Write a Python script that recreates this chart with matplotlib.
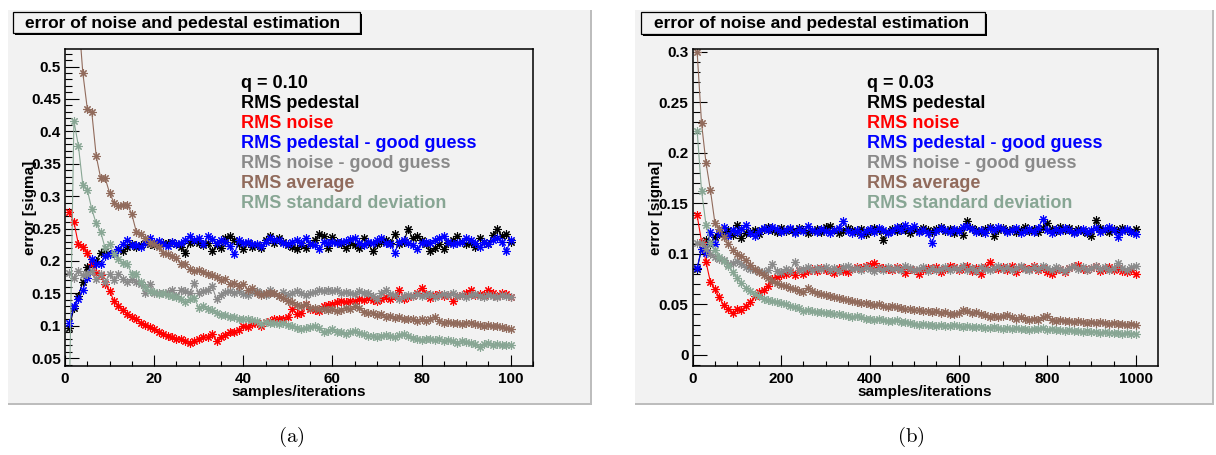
import matplotlib
matplotlib.use("Agg")
import matplotlib.pyplot as plt
from matplotlib.patches import Rectangle
from matplotlib.ticker import MultipleLocator, FuncFormatter

# ---------------- data ----------------
samples_a = list(range(1, 101))
samples_b = list(range(10, 1001, 10))

ped_a = [0.097, 0.128, 0.146, 0.168, 0.190, 0.195, 0.200, 0.213, 0.216, 0.210,
         0.213, 0.218, 0.215, 0.222, 0.226, 0.222, 0.225, 0.228, 0.226, 0.224,
         0.226, 0.228, 0.227, 0.230, 0.226, 0.222, 0.213, 0.228, 0.231, 0.228,
         0.224, 0.228, 0.215, 0.224, 0.220, 0.235, 0.238, 0.232, 0.226, 0.219,
         0.228, 0.222, 0.225, 0.220, 0.232, 0.238, 0.228, 0.235, 0.230, 0.225,
         0.222, 0.218, 0.224, 0.220, 0.226, 0.232, 0.241, 0.238, 0.220, 0.237,
         0.230, 0.226, 0.220, 0.228, 0.224, 0.220, 0.236, 0.228, 0.215, 0.226,
         0.230, 0.232, 0.228, 0.241, 0.226, 0.230, 0.249, 0.235, 0.238, 0.232,
         0.226, 0.215, 0.220, 0.226, 0.218, 0.228, 0.232, 0.238, 0.230, 0.226,
         0.228, 0.222, 0.236, 0.230, 0.226, 0.240, 0.250, 0.238, 0.242, 0.230]
noise_a = [0.275, 0.260, 0.226, 0.222, 0.213, 0.195, 0.182, 0.178, 0.164, 0.154,
           0.138, 0.131, 0.125, 0.118, 0.113, 0.110, 0.105, 0.101, 0.098, 0.095,
           0.090, 0.087, 0.085, 0.082, 0.080, 0.080, 0.076, 0.074, 0.077, 0.080,
           0.082, 0.082, 0.087, 0.077, 0.083, 0.086, 0.090, 0.091, 0.093, 0.100,
           0.098, 0.103, 0.105, 0.100, 0.106, 0.108, 0.110, 0.110, 0.111, 0.113,
           0.126, 0.118, 0.120, 0.133, 0.126, 0.125, 0.123, 0.131, 0.132, 0.133,
           0.136, 0.138, 0.137, 0.138, 0.138, 0.141, 0.140, 0.143, 0.140, 0.138,
           0.142, 0.144, 0.141, 0.146, 0.156, 0.141, 0.145, 0.146, 0.150, 0.159,
           0.149, 0.143, 0.147, 0.149, 0.146, 0.147, 0.138, 0.146, 0.148, 0.151,
           0.155, 0.148, 0.149, 0.147, 0.156, 0.150, 0.146, 0.150, 0.149, 0.145]
ped_good_a = [0.105, 0.130, 0.141, 0.155, 0.174, 0.203, 0.195, 0.195, 0.208, 0.210,
              0.212, 0.218, 0.226, 0.233, 0.224, 0.225, 0.222, 0.228, 0.236, 0.230,
              0.231, 0.226, 0.223, 0.230, 0.226, 0.228, 0.232, 0.238, 0.232, 0.235,
              0.226, 0.238, 0.234, 0.228, 0.232, 0.230, 0.223, 0.210, 0.232, 0.228,
              0.230, 0.226, 0.226, 0.223, 0.230, 0.236, 0.232, 0.233, 0.228, 0.226,
              0.230, 0.232, 0.228, 0.236, 0.226, 0.224, 0.218, 0.230, 0.228, 0.230,
              0.227, 0.229, 0.231, 0.234, 0.236, 0.228, 0.225, 0.230, 0.228, 0.232,
              0.236, 0.228, 0.226, 0.213, 0.230, 0.232, 0.228, 0.225, 0.218, 0.228,
              0.230, 0.228, 0.232, 0.235, 0.238, 0.230, 0.226, 0.228, 0.230, 0.236,
              0.232, 0.228, 0.222, 0.230, 0.226, 0.232, 0.236, 0.230, 0.215, 0.232]
noise_good_a = [0.182, 0.173, 0.185, 0.178, 0.180, 0.185, 0.172, 0.180, 0.167, 0.180,
                0.170, 0.180, 0.172, 0.167, 0.172, 0.168, 0.164, 0.151, 0.164, 0.151,
                0.150, 0.151, 0.152, 0.156, 0.146, 0.155, 0.153, 0.150, 0.166, 0.151,
                0.154, 0.156, 0.161, 0.141, 0.148, 0.152, 0.154, 0.150, 0.153, 0.149,
                0.147, 0.152, 0.154, 0.151, 0.148, 0.156, 0.150, 0.146, 0.152, 0.147,
                0.150, 0.154, 0.151, 0.148, 0.150, 0.152, 0.156, 0.154, 0.156, 0.153,
                0.155, 0.150, 0.152, 0.151, 0.149, 0.153, 0.151, 0.150, 0.146, 0.141,
                0.150, 0.156, 0.149, 0.147, 0.141, 0.146, 0.148, 0.146, 0.149, 0.146,
                0.147, 0.149, 0.145, 0.148, 0.149, 0.147, 0.150, 0.146, 0.148, 0.145,
                0.147, 0.149, 0.146, 0.145, 0.148, 0.146, 0.144, 0.147, 0.146, 0.145]
avg_a = [0.950, 0.720, 0.580, 0.490, 0.435, 0.430, 0.362, 0.328, 0.328, 0.305,
         0.290, 0.285, 0.287, 0.287, 0.272, 0.245, 0.242, 0.236, 0.228, 0.226,
         0.222, 0.213, 0.210, 0.207, 0.205, 0.196, 0.195, 0.188, 0.185, 0.186,
         0.183, 0.180, 0.178, 0.176, 0.170, 0.172, 0.164, 0.166, 0.162, 0.165,
         0.156, 0.158, 0.150, 0.147, 0.150, 0.151, 0.150, 0.146, 0.143, 0.138,
         0.136, 0.132, 0.130, 0.133, 0.128, 0.128, 0.126, 0.126, 0.124, 0.126,
         0.123, 0.124, 0.128, 0.126, 0.130, 0.128, 0.122, 0.120, 0.120, 0.116,
         0.118, 0.114, 0.115, 0.112, 0.114, 0.110, 0.111, 0.110, 0.108, 0.110,
         0.108, 0.111, 0.113, 0.108, 0.105, 0.106, 0.104, 0.105, 0.103, 0.105,
         0.104, 0.103, 0.102, 0.100, 0.101, 0.099, 0.100, 0.098, 0.096, 0.095]
std_a = [0.000, 0.416, 0.378, 0.317, 0.310, 0.280, 0.258, 0.245, 0.220, 0.226,
         0.210, 0.203, 0.197, 0.195, 0.180, 0.180, 0.167, 0.160, 0.154, 0.152,
         0.149, 0.150, 0.148, 0.146, 0.145, 0.141, 0.136, 0.141, 0.143, 0.128,
         0.130, 0.126, 0.124, 0.120, 0.117, 0.116, 0.113, 0.114, 0.111, 0.110,
         0.110, 0.109, 0.108, 0.103, 0.106, 0.105, 0.104, 0.103, 0.104, 0.102,
         0.100, 0.097, 0.095, 0.096, 0.098, 0.100, 0.096, 0.090, 0.092, 0.095,
         0.091, 0.090, 0.087, 0.090, 0.092, 0.089, 0.087, 0.085, 0.084, 0.083,
         0.085, 0.086, 0.084, 0.083, 0.086, 0.087, 0.084, 0.081, 0.080, 0.078,
         0.080, 0.079, 0.078, 0.080, 0.077, 0.078, 0.076, 0.074, 0.076, 0.075,
         0.074, 0.072, 0.068, 0.072, 0.073, 0.071, 0.072, 0.070, 0.071, 0.070]

ped_b = [0.085, 0.105, 0.114, 0.110, 0.117, 0.120, 0.121, 0.124, 0.119, 0.129,
         0.116, 0.121, 0.122, 0.124, 0.120, 0.125, 0.127, 0.124, 0.122, 0.126,
         0.123, 0.125, 0.122, 0.126, 0.124, 0.121, 0.123, 0.125, 0.122, 0.127,
         0.128, 0.124, 0.121, 0.123, 0.126, 0.124, 0.122, 0.125, 0.120, 0.123,
         0.126, 0.124, 0.114, 0.122, 0.125, 0.123, 0.127, 0.124, 0.121, 0.125,
         0.123, 0.126, 0.124, 0.122, 0.125, 0.127, 0.123, 0.125, 0.121, 0.124,
         0.119, 0.132, 0.126, 0.124, 0.122, 0.125, 0.127, 0.118, 0.124, 0.126,
         0.123, 0.125, 0.122, 0.124, 0.127, 0.123, 0.125, 0.122, 0.126, 0.131,
         0.125, 0.123, 0.127, 0.124, 0.126, 0.122, 0.125, 0.123, 0.121, 0.118,
         0.133, 0.126, 0.124, 0.122, 0.125, 0.123, 0.126, 0.124, 0.122, 0.125]
noise_b = [0.138, 0.112, 0.092, 0.072, 0.065, 0.057, 0.049, 0.045, 0.041, 0.045,
           0.044, 0.048, 0.052, 0.058, 0.062, 0.064, 0.068, 0.075, 0.077, 0.079,
           0.080, 0.082, 0.079, 0.084, 0.080, 0.083, 0.085, 0.083, 0.086, 0.084,
           0.083, 0.081, 0.086, 0.083, 0.082, 0.085, 0.087, 0.086, 0.088, 0.089,
           0.091, 0.087, 0.086, 0.085, 0.084, 0.087, 0.085, 0.081, 0.085, 0.084,
           0.080, 0.084, 0.086, 0.085, 0.087, 0.082, 0.085, 0.088, 0.087, 0.084,
           0.086, 0.088, 0.083, 0.086, 0.080, 0.087, 0.092, 0.086, 0.085, 0.087,
           0.084, 0.088, 0.082, 0.087, 0.086, 0.085, 0.088, 0.084, 0.086, 0.082,
           0.080, 0.084, 0.085, 0.082, 0.086, 0.088, 0.089, 0.085, 0.084, 0.086,
           0.088, 0.083, 0.085, 0.087, 0.084, 0.086, 0.083, 0.082, 0.084, 0.080]
ped_good_b = [0.086, 0.105, 0.101, 0.122, 0.110, 0.121, 0.127, 0.118, 0.124, 0.122,
              0.125, 0.129, 0.121, 0.118, 0.123, 0.126, 0.124, 0.127, 0.125, 0.122,
              0.124, 0.126, 0.121, 0.125, 0.123, 0.128, 0.124, 0.122, 0.125, 0.123,
              0.121, 0.124, 0.126, 0.132, 0.123, 0.121, 0.124, 0.119, 0.123, 0.125,
              0.122, 0.126, 0.124, 0.121, 0.123, 0.127, 0.124, 0.129, 0.125, 0.128,
              0.122, 0.124, 0.121, 0.111, 0.123, 0.126, 0.124, 0.122, 0.125, 0.123,
              0.127, 0.128, 0.125, 0.122, 0.124, 0.121, 0.126, 0.124, 0.127, 0.125,
              0.122, 0.124, 0.126, 0.121, 0.123, 0.125, 0.122, 0.126, 0.134, 0.124,
              0.121, 0.125, 0.123, 0.126, 0.124, 0.121, 0.123, 0.125, 0.122, 0.124,
              0.126, 0.122, 0.125, 0.127, 0.124, 0.117, 0.123, 0.125, 0.122, 0.120]
noise_good_b = [0.111, 0.111, 0.105, 0.100, 0.097, 0.095, 0.094, 0.090, 0.091, 0.093,
                0.090, 0.087, 0.085, 0.084, 0.083, 0.082, 0.084, 0.090, 0.083, 0.082,
                0.085, 0.083, 0.092, 0.084, 0.085, 0.087, 0.084, 0.086, 0.085, 0.087,
                0.084, 0.086, 0.083, 0.087, 0.088, 0.085, 0.086, 0.084, 0.087, 0.085,
                0.083, 0.086, 0.084, 0.087, 0.085, 0.086, 0.084, 0.088, 0.086, 0.084,
                0.085, 0.087, 0.083, 0.086, 0.084, 0.085, 0.087, 0.084, 0.086, 0.085,
                0.088, 0.084, 0.086, 0.083, 0.087, 0.085, 0.084, 0.086, 0.088, 0.085,
                0.087, 0.084, 0.086, 0.088, 0.085, 0.084, 0.087, 0.085, 0.088, 0.086,
                0.084, 0.087, 0.085, 0.083, 0.086, 0.088, 0.085, 0.087, 0.084, 0.086,
                0.088, 0.085, 0.087, 0.084, 0.086, 0.091, 0.086, 0.084, 0.087, 0.088]
avg_b = [0.300, 0.229, 0.190, 0.163, 0.131, 0.125, 0.117, 0.110, 0.104, 0.100,
         0.098, 0.094, 0.089, 0.085, 0.082, 0.079, 0.076, 0.073, 0.071, 0.069,
         0.068, 0.066, 0.065, 0.063, 0.062, 0.066, 0.063, 0.061, 0.060, 0.059,
         0.058, 0.057, 0.056, 0.055, 0.054, 0.053, 0.052, 0.051, 0.051, 0.050,
         0.049, 0.050, 0.048, 0.047, 0.048, 0.047, 0.046, 0.045, 0.045, 0.044,
         0.044, 0.043, 0.043, 0.042, 0.043, 0.041, 0.042, 0.040, 0.040, 0.041,
         0.044, 0.043, 0.041, 0.042, 0.040, 0.039, 0.037, 0.038, 0.037, 0.038,
         0.039, 0.037, 0.036, 0.037, 0.036, 0.035, 0.036, 0.035, 0.037, 0.038,
         0.035, 0.034, 0.035, 0.034, 0.034, 0.033, 0.034, 0.033, 0.032, 0.033,
         0.032, 0.033, 0.032, 0.031, 0.032, 0.031, 0.031, 0.030, 0.031, 0.030]
std_b = [0.222, 0.162, 0.129, 0.111, 0.104, 0.097, 0.093, 0.088, 0.082, 0.076,
         0.071, 0.066, 0.063, 0.060, 0.058, 0.055, 0.054, 0.053, 0.052, 0.051,
         0.050, 0.048, 0.047, 0.046, 0.043, 0.044, 0.043, 0.042, 0.042, 0.041,
         0.041, 0.040, 0.040, 0.039, 0.038, 0.037, 0.038, 0.037, 0.036, 0.036,
         0.035, 0.036, 0.035, 0.034, 0.034, 0.035, 0.033, 0.033, 0.032, 0.031,
         0.030, 0.031, 0.030, 0.030, 0.029, 0.030, 0.029, 0.029, 0.030, 0.029,
         0.028, 0.029, 0.028, 0.028, 0.028, 0.027, 0.027, 0.028, 0.027, 0.026,
         0.027, 0.026, 0.027, 0.026, 0.026, 0.025, 0.026, 0.026, 0.027, 0.025,
         0.026, 0.025, 0.025, 0.024, 0.025, 0.024, 0.024, 0.023, 0.024, 0.023,
         0.023, 0.022, 0.023, 0.022, 0.022, 0.022, 0.021, 0.022, 0.021, 0.021]

legend_labels = ["RMS pedestal", "RMS noise", "RMS pedestal - good guess",
                 "RMS noise - good guess", "RMS average", "RMS standard deviation"]
colors = ["#000000", "#ff0000", "#0000ff", "#8a8a8a", "#916b5c", "#88a694"]

TITLE = "error of noise and pedestal estimation"

# ---------------- layout (pixels) ----------------
W, H = 1216, 455
PANEL_BG = "#f2f2f2"


def fx(px):
    return px / W


def fy(py):
    return 1 - py / H


def fig_rect(fig, x0, y0, x1, y1, **kw):
    r = Rectangle((fx(x0), fy(y1)), fx(x1) - fx(x0), fy(y0) - fy(y1),
                  transform=fig.transFigure, **kw)
    fig.patches.append(r)


def draw_panel(fig, panel, axbox, xlim, ylim, xmajor, xminor, ymajor, yminor,
               xs, series, q_text, caption):
    # canvas background with a soft edge
    px0, py0, px1, py1 = panel["canvas"]
    fig_rect(fig, px0, py0, px1, py1, facecolor=PANEL_BG, edgecolor="none", zorder=-3)
    fig_rect(fig, px0, py1 - 2, px1, py1, facecolor="#bdbdbd", edgecolor="none", zorder=-2)
    fig_rect(fig, px1 - 2, py0, px1, py1, facecolor="#bdbdbd", edgecolor="none", zorder=-2)

    # title box with shadow
    tx0, ty0, tx1, ty1 = panel["title"]
    fig_rect(fig, tx0 + 2, ty0 + 2, tx1 + 2, ty1 + 2, facecolor="black", edgecolor="none", zorder=1)
    fig_rect(fig, tx0, ty0, tx1, ty1, facecolor=PANEL_BG, edgecolor="black", linewidth=0.9, zorder=1.1)
    fig.text(fx(panel["title_text_x"]), fy(28), TITLE, fontsize=12.5, fontweight="bold",
             ha="left", va="baseline", zorder=2)

    ax0, ay0, ax1, ay1 = axbox
    ax = fig.add_axes([fx(ax0), fy(ay1), fx(ax1) - fx(ax0), fy(ay0) - fy(ay1)])
    ax.set_zorder(0)
    ax.set_facecolor(PANEL_BG)
    for sp in ax.spines.values():
        sp.set_linewidth(1.1)

    for ys, col in zip(series, colors):
        ax.plot(xs, ys, color=col, lw=0.8, marker=(8, 2, 0), ms=6, mew=0.8,
                mec=col, clip_on=True)

    ax.set_xlim(*xlim)
    ax.set_ylim(*ylim)
    ax.xaxis.set_major_locator(MultipleLocator(xmajor))
    ax.xaxis.set_minor_locator(MultipleLocator(xminor))
    ax.yaxis.set_major_locator(MultipleLocator(ymajor))
    ax.yaxis.set_minor_locator(MultipleLocator(yminor))
    ax.yaxis.set_major_formatter(FuncFormatter(lambda v, p: "%g" % round(v, 3)))
    ax.tick_params(which="both", direction="in", top=False, right=False,
                   labelsize=11, width=0.8)
    ax.tick_params(axis="x", which="major", length=8, pad=4)
    ax.tick_params(axis="x", which="minor", length=3.6)
    ax.tick_params(axis="y", which="major", length=10, pad=3)
    ax.tick_params(axis="y", which="minor", length=5)
    for lab in ax.get_xticklabels() + ax.get_yticklabels():
        lab.set_fontweight("bold")

    h = ay1 - ay0
    w = ax1 - ax0
    ax.text(0.5, (ay1 - 392) / h, "samples/iterations", transform=ax.transAxes,
            ha="center", va="center", fontsize=11, fontweight="bold")
    ax.text((panel["ylabel_x"] - ax0) / w, 0.5, "error [sigma]", transform=ax.transAxes,
            ha="center", va="center", rotation=90, fontsize=11, fontweight="bold")

    lx = (panel["legend_x"] - ax0) / w
    lines = [(q_text, "black")] + list(zip(legend_labels, colors))
    for i, (txt, col) in enumerate(lines):
        ax.text(lx, (ay1 - (88.3 + 20.0 * i)) / h, txt, transform=ax.transAxes,
                ha="left", va="baseline", fontsize=13, fontweight="bold", color=col)

    fig.text(fx(panel["caption_x"]), fy(437), caption, fontsize=15,
             ha="center", va="center")
    return ax


def main():
    plt.rcParams["font.family"] = ["Liberation Sans", "DejaVu Sans"]
    plt.rcParams["mathtext.fontset"] = "cm"
    fig = plt.figure(figsize=(W / 100, H / 100), dpi=100, facecolor="white")

    panel_a = dict(canvas=(8, 10, 592, 405), title=(13, 12, 360, 33), title_text_x=25,
                   ylabel_x=29.6, legend_x=241, caption_x=291)
    panel_b = dict(canvas=(635, 10, 1214, 405), title=(640.6, 12, 985, 34), title_text_x=653.8,
                   ylabel_x=655.7, legend_x=867, caption_x=911)

    draw_panel(fig, panel_a, (65, 49, 533, 366), (0, 105), (0.038, 0.527),
               20, 5, 0.05, 0.01, samples_a,
               [ped_a, noise_a, ped_good_a, noise_good_a, avg_a, std_a],
               "q = 0.10", r"$\mathrm{(a)}$")
    draw_panel(fig, panel_b, (692.7, 49, 1157.5, 366), (0, 1049), (-0.011, 0.3027),
               200, 50, 0.05, 0.01, samples_b,
               [ped_b, noise_b, ped_good_b, noise_good_b, avg_b, std_b],
               "q = 0.03", r"$\mathrm{(b)}$")

    fig.savefig("out.png", dpi=100, facecolor="white")


if __name__ == '__main__':
    main()
